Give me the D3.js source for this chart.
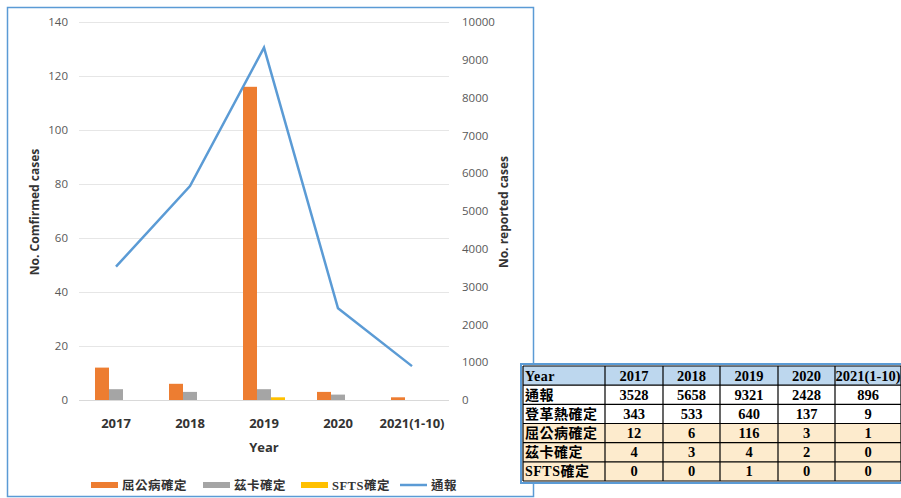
<!DOCTYPE html>
<html>
<head>
<meta charset="utf-8">
<script src="https://cdn.jsdelivr.net/npm/d3@7"></script>
<style>
  body { margin: 0; background: #fff; }
  svg { display: block; }
</style>
</head>
<body>
<svg></svg>
<script>
var years = ['2017', '2018', '2019', '2020', '2021(1-10)'];
var reported = [3528, 5658, 9321, 2428, 896];
var dengue = [343, 533, 640, 137, 9];
var chik = [12, 6, 116, 3, 1];
var zika = [4, 3, 4, 2, 0];
var sfts = [0, 0, 1, 0, 0];

var leftTicks = [0, 20, 40, 60, 80, 100, 120, 140];
var rightTicks = [0, 1000, 2000, 3000, 4000, 5000, 6000, 7000, 8000, 9000, 10000];

var barSeries = [
  {name: '屈公病確定', values: chik, color: '#ed7d31'},
  {name: '茲卡確定', values: zika, color: '#a5a5a5'},
  {name: 'SFTS確定', values: sfts, color: '#ffc000'}
];

var w = 901, h = 498;
var svg = d3.select('svg').attr('width', w).attr('height', h);

var font = "'Open Sans', 'Noto Sans CJK TC', sans-serif";

// chart frame
svg.append('rect')
   .attr('x', 7.5).attr('y', 7.5)
   .attr('width', 526).attr('height', 489)
   .attr('fill', '#fff')
   .attr('stroke', '#5b9bd5')
   .attr('stroke-width', 1.5);

var plot = {left: 79, right: 449, top: 22, bottom: 400};

var x = d3.scaleBand().domain(years).range([plot.left, plot.right]);
var xs = d3.scaleBand().domain([0, 1, 2]).range([0, 42]);
var yL = d3.scaleLinear().domain([0, 140]).range([plot.bottom, plot.top]);
var yR = d3.scaleLinear().domain([0, 10000]).range([plot.bottom, plot.top]);

// gridlines
svg.append('g').selectAll('line')
   .data(leftTicks).enter().append('line')
   .attr('x1', plot.left).attr('x2', plot.right)
   .attr('y1', function(d){ return yL(d) + 0.5; })
   .attr('y2', function(d){ return yL(d) + 0.5; })
   .attr('stroke', function(d){ return d == 0 ? '#d9d9d9' : '#e6e6e6'; })
   .attr('stroke-width', 1);

// left axis
var axL = svg.append('g')
   .attr('transform', 'translate(' + (plot.left - 8) + ',0)')
   .call(d3.axisLeft(yL).tickValues(leftTicks).tickSize(0).tickPadding(3));
axL.select('.domain').remove();
axL.selectAll('text').attr('fill', '#595959').style('font-family', font).style('font-size', '11.5px');

// right axis
var axR = svg.append('g')
   .attr('transform', 'translate(' + (plot.right + 10) + ',0)')
   .call(d3.axisRight(yR).tickValues(rightTicks).tickFormat(d3.format('d')).tickSize(0).tickPadding(3));
axR.select('.domain').remove();
axR.selectAll('text').attr('fill', '#595959').style('font-family', font).style('font-size', '11.5px');

// bars
barSeries.forEach(function(s, i){
  svg.append('g').selectAll('rect')
     .data(s.values).enter().append('rect')
     .attr('x', function(d, j){ return x(years[j]) + x.bandwidth()/2 - 21 + xs(i); })
     .attr('width', xs.bandwidth())
     .attr('y', function(d){ return yL(d); })
     .attr('height', function(d){ return plot.bottom - yL(d); })
     .attr('fill', s.color);
});

// reported line
var line = d3.line()
   .x(function(d, j){ return x(years[j]) + x.bandwidth()/2; })
   .y(function(d){ return yR(d); });
svg.append('path')
   .datum(reported)
   .attr('d', line)
   .attr('fill', 'none')
   .attr('stroke', '#5b9bd5')
   .attr('stroke-width', 2.5)
   .attr('stroke-linejoin', 'miter');

// x labels
svg.append('g').selectAll('text')
   .data(years).enter().append('text')
   .attr('x', function(d){ return x(d) + x.bandwidth()/2; })
   .attr('y', 428)
   .attr('text-anchor', 'middle')
   .style('font-family', font).style('font-size', '13px').style('font-weight', 'bold')
   .attr('fill', '#333')
   .text(function(d){ return d; });

svg.append('text')
   .attr('x', 264).attr('y', 452)
   .attr('text-anchor', 'middle')
   .style('font-family', font).style('font-size', '13px').style('font-weight', 'bold')
   .attr('fill', '#333')
   .text('Year');

svg.append('text')
   .attr('transform', 'translate(39,212) rotate(-90)')
   .attr('text-anchor', 'middle')
   .style('font-family', font).style('font-size', '12px').style('font-weight', 'bold')
   .attr('fill', '#333')
   .text('No. Comfirmed cases');

svg.append('text')
   .attr('transform', 'translate(508,212) rotate(-90)')
   .attr('text-anchor', 'middle')
   .style('font-family', font).style('font-size', '12px').style('font-weight', 'bold')
   .attr('fill', '#333')
   .text('No. reported cases');

// legend
var legendItems = [
  {name: '屈公病確定', color: '#ed7d31', x: 91, kind: 'bar'},
  {name: '茲卡確定', color: '#a5a5a5', x: 203, kind: 'bar'},
  {name: 'SFTS確定', color: '#ffc000', x: 301, kind: 'bar'},
  {name: '通報', color: '#5b9bd5', x: 400, kind: 'line'}
];
var lg = svg.append('g').selectAll('g')
   .data(legendItems).enter().append('g')
   .attr('transform', function(d){ return 'translate(' + d.x + ',485)'; });
lg.append('rect')
   .attr('x', 0).attr('width', 27)
   .attr('y', function(d){ return d.kind == 'bar' ? -3 : -1.25; })
   .attr('height', function(d){ return d.kind == 'bar' ? 6 : 2.5; })
   .attr('fill', function(d){ return d.color; });
lg.append('text')
   .attr('x', 31).attr('y', 4.5)
   .style('font-family', "'Liberation Serif', 'Noto Sans CJK TC', serif")
   .style('font-size', '12.5px').style('font-weight', 'bold')
   .style('letter-spacing', '0.5px')
   .attr('fill', '#333')
   .text(function(d){ return d.name; });

// data table
var tableRows = [
  {label: 'Year', values: years, bg: '#bdd7ee'},
  {label: '通報', values: reported, bg: '#ffffff'},
  {label: '登革熱確定', values: dengue, bg: '#ffffff'},
  {label: '屈公病確定', values: chik, bg: '#fdebcd'},
  {label: '茲卡確定', values: zika, bg: '#fdebcd'},
  {label: 'SFTS確定', values: sfts, bg: '#fdebcd'}
];
var colX = [523, 605, 663, 720, 778, 835, 901];
var rowY = d3.scaleBand().domain(d3.range(tableRows.length)).range([366, 481]);

var tbl = svg.append('g');
tbl.append('rect')
   .attr('x', 521).attr('y', 364)
   .attr('width', 384).attr('height', 119)
   .attr('fill', '#fff')
   .attr('stroke', '#5b9bd5').attr('stroke-width', 2);

var tr = tbl.selectAll('g.row')
   .data(tableRows).enter().append('g').classed('row', true);
tr.append('rect')
   .attr('x', colX[0]).attr('width', colX[6] - colX[0])
   .attr('y', function(d, i){ return rowY(i); })
   .attr('height', rowY.bandwidth())
   .attr('fill', function(d){ return d.bg; });
tr.append('text')
   .attr('x', colX[0] + 2)
   .attr('y', function(d, i){ return rowY(i) + rowY.bandwidth()/2 + 5; })
   .style('font-family', "'Liberation Serif', 'Noto Sans CJK TC', serif")
   .style('font-size', '14px').style('font-weight', 'bold')
   .style('letter-spacing', '0.5px')
   .attr('fill', '#000')
   .text(function(d){ return d.label; });
tr.each(function(d, i){
  d3.select(this).selectAll('text.v')
    .data(d.values).enter().append('text').classed('v', true)
    .attr('x', function(v, j){ return (colX[j+1] + colX[j+2]) / 2; })
    .attr('y', rowY(i) + rowY.bandwidth()/2 + 5)
    .attr('text-anchor', 'middle')
    .style('font-family', "'Liberation Serif', serif")
    .style('font-size', '14.5px').style('font-weight', 'bold')
    .attr('fill', '#000')
    .text(function(v){ return v; });
});

// grid lines of table
tbl.selectAll('line.h')
   .data(d3.range(tableRows.length + 1)).enter().append('line')
   .attr('x1', colX[0]).attr('x2', colX[6])
   .attr('y1', function(i){ return i < tableRows.length ? rowY(i) : 481; })
   .attr('y2', function(i){ return i < tableRows.length ? rowY(i) : 481; })
   .attr('stroke', '#000').attr('stroke-width', 1.2);
tbl.selectAll('line.v')
   .data(colX).enter().append('line')
   .attr('x1', function(d){ return d; }).attr('x2', function(d){ return d; })
   .attr('y1', 366).attr('y2', 481)
   .attr('stroke', '#000').attr('stroke-width', 1.2);
</script>
</body>
</html>
